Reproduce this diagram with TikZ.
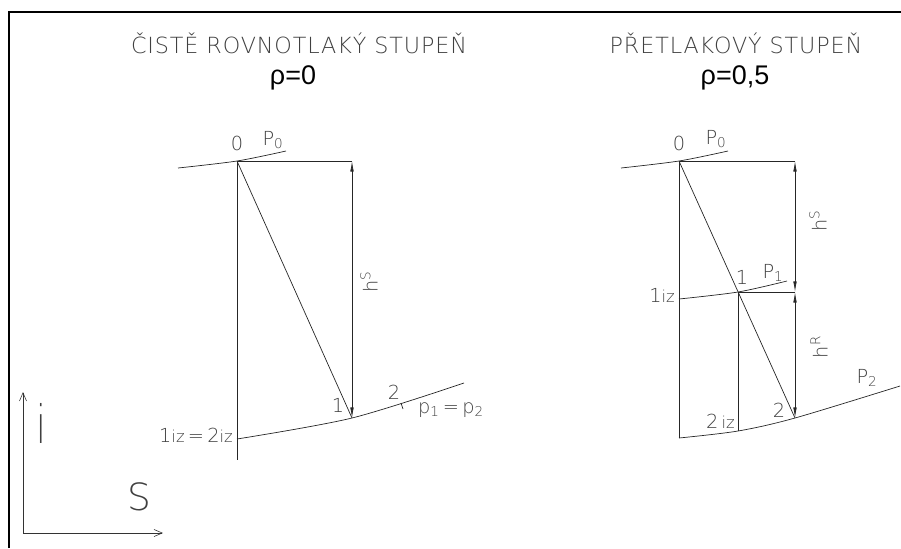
\documentclass[tikz,border=0pt]{standalone}
\usepackage{fontspec}
\setmainfont{Liberation Sans}
\newfontfamily\thinfont{DejaVu Sans ExtraLight}
\newfontfamily\titlefont[LetterSpace=4]{DejaVu Sans ExtraLight}
\newcommand{\izsz}[1]{{\fontsize{14}{14}\selectfont #1}}
\usetikzlibrary{arrows.meta}

\begin{document}
\begin{tikzpicture}[
  x=0.03cm, y=-0.03cm,
  lbl/.style={font=\thinfont\fontsize{16.5}{16.5}\selectfont, text=black!75, inner sep=0pt},
  ttl/.style={font=\titlefont\fontsize{19}{19}\selectfont, text=black!75, inner sep=0pt},
  rho/.style={font=\fontsize{23}{23}\selectfont, inner sep=0pt},
  ln/.style={line width=0.6pt, draw=black!85},
  dim/.style={ln, {Latex[length=9pt,width=3pt]}-{Latex[length=9pt,width=3pt]}},
  axis/.style={line width=0.5pt, draw=black!80, -{Straight Barb[length=7pt,width=6pt]}},
]
\useasboundingbox (0,0) rectangle (901,548);
\draw[line width=2.2pt] (9,548) -- (9,12) -- (901,12);

% titles
\node[ttl] (ttlA) at (299,43) {ČISTĚ ROVNOTLAKÝ STUPEŇ};
\node[rho] (rhoA) at (293,78) {ρ=0};
\node[ttl] (ttlB) at (736,43) {PŘETLAKOVÝ STUPEŇ};
\node[rho] (rhoB) at (735,78) {ρ=0,5};

% axes
\coordinate (o) at (23,533);
\coordinate (iend) at (23,392);
\coordinate (send) at (163,533);
\draw[axis] (o) -- (iend);
\draw[axis] (o) -- (send);
\node[lbl, font=\thinfont\fontsize{30}{30}\selectfont, yscale=1.5] (ilbl) at (41,423) {i};
\node[lbl, font=\thinfont\fontsize{32}{32}\selectfont] (slbl) at (139,497) {S};

% left: rovnotlaky stupen
\coordinate (a0) at (237,161);
\coordinate (atop) at (352,161);
\coordinate (a1) at (352,418);
\coordinate (aiz) at (237,439);
\coordinate (abot) at (237,460);
\draw[ln] plot[smooth] coordinates {(178,168) (a0) (286,151)};
\draw[ln] plot[smooth] coordinates {(aiz) (a1) (464,383)};
\draw[ln] (a0) -- (atop);
\draw[ln] (a0) -- (abot);
\draw[ln] (a0) -- (a1);
\draw[dim] (atop) -- (a1);
\draw[ln] (401,403) -- (403,409);
\node[lbl] (a0lbl) at (237,143) {0};
\node[lbl] (ap0lbl) at (273,140) {P\textsubscript{0}};
\node[lbl, rotate=90] (ahs) at (369,282) {h\textsuperscript{S}};
\node[lbl] (a1lbl) at (338,405) {1};
\node[lbl] (a2lbl) at (394,392) {2};
\node[lbl] (aplbl) at (451,410) {p\textsubscript{1}\,=\,p\textsubscript{2}};
\node[lbl, anchor=east] (aizlbl) at (233,435) {1\izsz{iz}\,=\,2\izsz{iz}};

% right: pretlakovy stupen
\coordinate (b0) at (679,161);
\coordinate (btop) at (795,161);
\coordinate (b1) at (738,292);
\coordinate (bmid) at (795,292);
\coordinate (b2) at (795,418);
\coordinate (b1iz) at (679,299);
\coordinate (b2iz) at (738,431);
\coordinate (bbot) at (679,438);
\draw[ln] plot[smooth] coordinates {(621,168) (b0) (728,151)};
\draw[ln] plot[smooth] coordinates {(b1iz) (b1) (787,281)};
\draw[ln] plot[smooth] coordinates {(bbot) (b2iz) (b2) (900,386)};
\draw[ln] (b0) -- (btop);
\draw[ln] (b0) -- (bbot);
\draw[ln] (b0) -- (b2);
\draw[ln] (b1) -- (bmid);
\draw[ln] (b1) -- (b2iz);
\draw[dim] (btop) -- (bmid);
\draw[dim] (bmid) -- (b2);
\node[lbl] (b0lbl) at (679,143) {0};
\node[lbl] (bp0lbl) at (716,139) {P\textsubscript{0}};
\node[lbl, rotate=90] (bhs) at (818,221) {h\textsuperscript{S}};
\node[lbl, rotate=90] (bhr) at (819,347) {h\textsuperscript{R}};
\node[lbl] (b1lbl) at (742,277) {1};
\node[lbl] (bp1lbl) at (773,273) {P\textsubscript{1}};
\node[lbl, anchor=east] (b1izlbl) at (675,295) {1\izsz{iz}};
\node[lbl] (b2lbl) at (779,410) {2};
\node[lbl, anchor=east] (b2izlbl) at (735,421) {2\,\izsz{iz}};
\node[lbl] (bp2lbl) at (867,378) {P\textsubscript{2}};
\end{tikzpicture}
\end{document}
